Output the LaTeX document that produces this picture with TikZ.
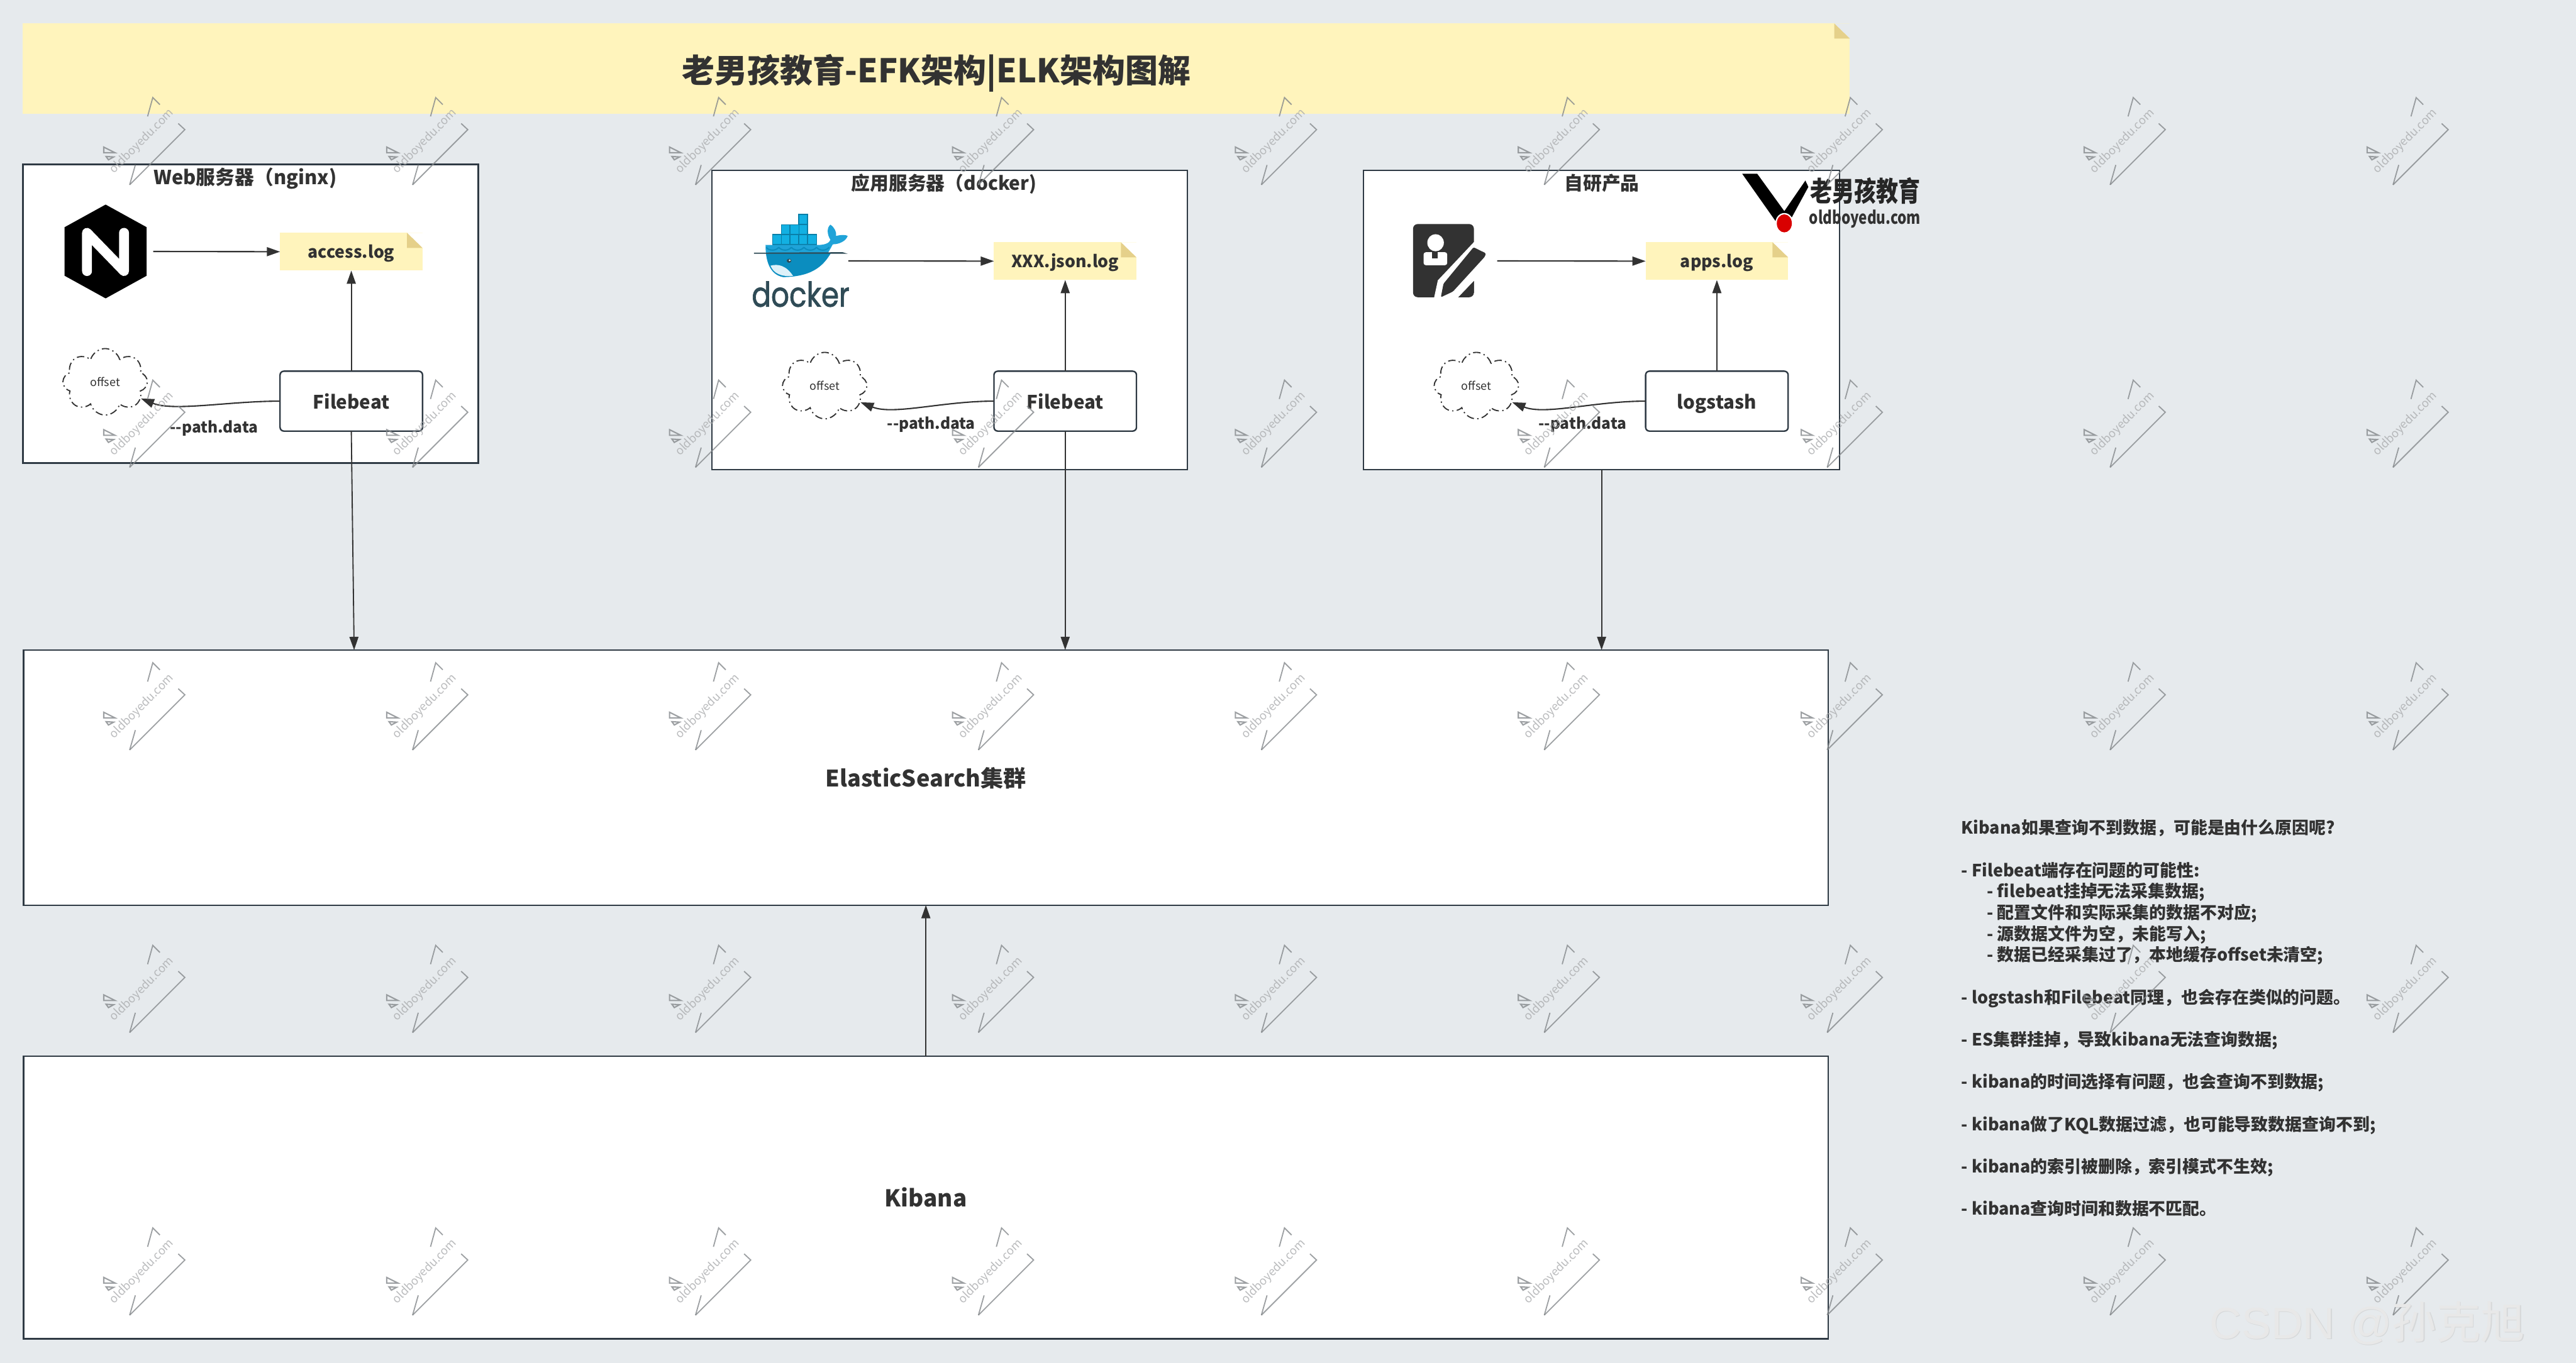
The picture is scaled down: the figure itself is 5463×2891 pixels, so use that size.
\documentclass[tikz,border=0pt]{standalone}
\usepackage{fontspec}
\setmainfont{Noto Sans CJK SC}
\newfontfamily\logofont[FakeBold=1.5]{Poppins}
\newfontfamily\markfont{Liberation Sans}
\usetikzlibrary{arrows.meta,shapes.symbols}
\definecolor{pagebg}{HTML}{E6EAED}
\definecolor{inkcol}{HTML}{323232}
\definecolor{edgecol}{HTML}{2F3A44}
\definecolor{notecol}{HTML}{FFF4BC}
\definecolor{foldcol}{HTML}{E5D08A}
\definecolor{markcol}{HTML}{85898C}
\definecolor{whaletop}{HTML}{1FA3D8}
\definecolor{whalelow}{HTML}{0B8DBF}
\definecolor{cratecol}{HTML}{12B0E2}
\definecolor{cratedark}{HTML}{0A7FA8}
\definecolor{dockerink}{HTML}{2F4B56}
\tikzset{
    arrow/.style={draw=inkcol,line width=0.8pt,-{Triangle[length=0.28cm,width=0.19cm]}},
    serverbox/.style={draw=edgecol,fill=white,line width=0.9pt,outer sep=0pt},
    agentbox/.style={serverbox,rounded corners=0.08cm,minimum width=3.02cm,minimum height=1.27cm,text height=0.40cm,text depth=0.08cm,font=\fontsize{11.2}{14}\selectfont\bfseries,text=inkcol},
    logbox/.style={fill=notecol,outer sep=0pt,minimum width=3.02cm,minimum height=0.8cm,text height=0.33cm,text depth=0.07cm,font=\fontsize{10.1}{13}\selectfont\bfseries,text=inkcol},
    boxtitle/.style={font=\fontsize{11.3}{13}\selectfont\bfseries,text=inkcol,inner sep=0pt},
    pathlabel/.style={font=\fontsize{9.3}{12}\selectfont\bfseries,text=inkcol,inner sep=0pt},
    offsetcloud/.style={cloud,cloud puffs=8,aspect=1.27,draw=inkcol,line width=0.7pt,dash pattern=on 4.5pt off 2pt on 0.8pt off 2pt,fill=white,inner sep=0pt,minimum width=1.79cm,minimum height=1.41cm,font=\fontsize{6.8}{8}\selectfont,text=inkcol},
    iconbox/.style={minimum width=2.02cm,minimum height=2cm,inner sep=0pt,outer sep=0pt},
}
\begin{document}
\begin{tikzpicture}[x=0.01cm,y=-0.01cm]
    \useasboundingbox (0,0) rectangle (5463,2891);
    \fill[pagebg] (0,0) rectangle (5463,2891);

    \node[logbox,minimum width=38.73cm,minimum height=1.92cm,text height=0.72cm,text depth=0.12cm,font=\fontsize{19.7}{24}\selectfont\bfseries] (title) at (1985.5,146) {老男孩教育-EFK架构|ELK架构图解};

    \node[serverbox,minimum width=9.65cm,minimum height=6.33cm] (web) at (531.5,665.5) {};
    \node[serverbox,minimum width=10.08cm,minimum height=6.34cm] (app) at (2014,679) {};
    \node[serverbox,minimum width=10.09cm,minimum height=6.34cm] (own) at (3396.5,679) {};
    \node[boxtitle,font=\fontsize{11.7}{13}\selectfont\bfseries] (webtitle) at (520,378) {Web服务器（nginx)};
    \node[boxtitle] (apptitle) at (2002,390) {应用服务器（docker)};
    \node[boxtitle] (owntitle) at (3397,388) {自研产品};

    \node[logbox] (access) at (745,534) {access.log};
    \node[logbox] (jsonlog) at (2259,554) {XXX.json.log};
    \node[logbox] (appslog) at (3641,554) {apps.log};
    \foreach \n/\c in {title/pagebg,access/white,jsonlog/white,appslog/white}{
        \fill[\c] (\n.north east) -- ++(-33,0) -- ++(33,32) -- cycle;
        \fill[foldcol] (\n.north east) ++(-33,0) -- ++(33,32) -- ++(-33,0) -- cycle;
    }

    \node[agentbox] (fb1) at (745,851) {Filebeat};
    \node[agentbox] (fb2) at (2259,851) {Filebeat};
    \node[agentbox] (ls) at (3641,851) {logstash};
    \node[offsetcloud] (off1) at (223,810) {offset};
    \node[offsetcloud] (off2) at (1749,818) {offset};
    \node[offsetcloud] (off3) at (3131,818) {offset};
    \node[pathlabel] (path1) at (454,908) {-{}-path.data};
    \node[pathlabel] (path2) at (1975,900) {-{}-path.data};
    \node[pathlabel] (path3) at (3356,900) {-{}-path.data};

    \node[serverbox,minimum width=38.25cm,minimum height=5.41cm,text height=0.48cm,text depth=0.09cm,font=\fontsize{13.7}{16}\selectfont\bfseries,text=inkcol] (es) at (1963.5,1649.5) {ElasticSearch集群};
    \node[serverbox,minimum width=38.25cm,minimum height=5.99cm,font=\fontsize{14}{17}\selectfont\bfseries,text=inkcol] (kibana) at (1963.5,2540.5) {Kibana};

    \node[iconbox] (nginx) at (224,533.5) {};
    \fill[black] (224,434) -- (311,482) -- (311,585) -- (224,633) -- (137,585) -- (137,482) -- cycle;
    \draw[white,line width=6pt,line cap=round,line join=round] (184.5,575) -- (184.5,494) -- (263,575) -- (263,494);

    \node[iconbox,minimum width=4cm] (docker) at (1599,553.5) {};
    \begin{scope}[shift={(1450,320)},x=0.00702cm,y=-0.00478cm]
        \foreach \cx/\cy in {347/282,347/328,295/328,321/328,268/372,295/372,321/372,347/372,374/372}{
            \fill[cratecol,draw=cratedark,line width=0.6pt] (\cx,\cy) rectangle ++(27,44);
        }
        \fill[whaletop] (247,418) -- (405,418) .. controls (425,418) and (440,410) .. (443,395) .. controls (432,370) and (432,340) .. (443,328) .. controls (455,340) and (462,360) .. (460,378) .. controls (475,372) and (490,372) .. (495,378) .. controls (490,400) and (470,415) .. (450,415) .. controls (430,470) and (400,560) .. (300,560) .. controls (260,550) and (247,490) .. (247,418) -- cycle;
        \fill[whalelow] (249,455) -- (444,455) .. controls (425,500) and (395,560) .. (300,560) .. controls (265,550) and (252,500) .. (249,455) -- cycle;
        \foreach \w in {249,287,325,363,401}{
            \draw[whalelow,line width=0.8pt] (\w,428) .. controls ({\w+8},445) and ({\w+30},445) .. ({\w+38},428);
        }
        \fill[white!85!whaletop] (262,510) .. controls (285,500) and (310,510) .. (330,555) .. controls (295,560) and (272,545) .. (262,510) -- cycle;
        \fill[dockerink] (212,457) -- (495,457) -- (480,450) -- (212,452) -- cycle;
        \fill[dockerink] (318,488) ellipse (7 and 9);
        \fill[white] (320,486) ellipse (3 and 4);
    \end{scope}
    \node[font=\logofont\fontsize{17.2}{20}\selectfont,text=dockerink,inner sep=0pt,yscale=1.2] (dockerword) at (1698,624) {docker};

    \node[iconbox] (edit) at (3074,553.5) {};
    \begin{scope}[shift={(2850,320)},x=0.00797cm,y=-0.00478cm]
        \fill[inkcol,rounded corners=0.1cm] (184,325) rectangle (346,650);
        \fill[white] (244,408) ellipse (22 and 38);
        \fill[white,rounded corners=0.05cm] (212,450) rectangle (275,508);
        \fill[inkcol] (235,450) rectangle (250,478);
        \fill[white] (346,405) -- (250,575) -- (240,652) -- (303,652) -- (380,520) -- (380,405) -- cycle;
        \fill[inkcol] (305,650) -- (346,578) -- (346,630) -- (330,650) -- cycle;
        \fill[inkcol,rounded corners=0.03cm] (345,428) -- (378,455) -- (375,470) -- (290,625) -- (258,650) -- (265,590) -- cycle;
        \fill[black] (1060,102) -- (1100,102) -- (1172,268) -- (1228,132) -- (1236,160) -- (1192,295) -- (1150,315) -- cycle;
        \fill[white] (1172,322) ellipse (24 and 46);
        \fill[red!85!black] (1172,322) ellipse (20 and 40);
    \end{scope}
    \node[font=\fontsize{13.3}{16}\selectfont\bfseries,text=black!85,inner sep=0pt,yscale=1.25] (logotext) at (3956,405) {老男孩教育};
    \node[font=\fontsize{9.8}{12}\selectfont\bfseries,text=inkcol,inner sep=0pt,xscale=0.87,yscale=1.1] (logourl) at (3955,464) {oldboyedu.com};

    \draw[arrow] (nginx.east) -- (access.west);
    \draw[arrow] (docker.east) -- (jsonlog.west);
    \draw[arrow] (edit.east) -- (appslog.west);
    \draw[arrow] (fb1.north) -- (access.south);
    \draw[arrow] (fb2.north) -- (jsonlog.south);
    \draw[arrow] (ls.north) -- (appslog.south);
    \draw[arrow] (fb1.west) .. controls +(-110,0) and +(70,28) .. (off1.-25);
    \draw[arrow] (fb2.west) .. controls +(-110,0) and +(70,28) .. (off2.-25);
    \draw[arrow] (ls.west) .. controls +(-110,0) and +(70,28) .. (off3.-25);
    \coordinate (esin) at (751,1379);
    \draw[arrow,line width=0.7pt] (fb1.south) -- (esin);
    \draw[arrow,line width=0.7pt] (fb2.south) -- (es.north -| fb2.south);
    \draw[arrow,line width=0.7pt] (own.south) -- (es.north -| own.south);
    \draw[arrow,line width=0.7pt] (kibana.north) -- (es.south);

    \node[anchor=north west,align=left,inner sep=0pt,font=\fontsize{10.2}{12.77}\selectfont\bfseries,text=inkcol] (notes) at (4159,1738) {Kibana如果查询不到数据，可能是由什么原因呢?\\
    \mbox{}\\
    - Filebeat端存在问题的可能性:\\
    \hspace*{0.54cm}- filebeat挂掉无法采集数据;\\
    \hspace*{0.54cm}- 配置文件和实际采集的数据不对应;\\
    \hspace*{0.54cm}- 源数据文件为空，未能写入;\\
    \hspace*{0.54cm}- 数据已经采集过了，本地缓存offset未清空;\\
    \mbox{}\\
    - logstash和Filebeat同理，也会存在类似的问题。\\
    \mbox{}\\
    - ES集群挂掉，导致kibana无法查询数据;\\
    \mbox{}\\
    - kibana的时间选择有问题，也会查询不到数据;\\
    \mbox{}\\
    - kibana做了KQL数据过滤，也可能导致数据查询不到;\\
    \mbox{}\\
    - kibana的索引被删除，索引模式不生效;\\
    \mbox{}\\
    - kibana查询时间和数据不匹配。};

    \foreach \i in {0,...,8}{
        \foreach \j in {0,...,4}{
            \begin{scope}[shift={({275+600*\i},{392+599.5*\j})},opacity=0.8]
                \draw[markcol,line width=0.7pt] (0,0) -- (117,-117) -- (103,-130);
                \draw[markcol,line width=0.7pt] (0,0) -- (12,-42);
                \draw[markcol,line width=0.7pt] (38,-145) -- (49,-185) -- (64,-170);
                \draw[markcol,line width=0.8pt] (-55,-80) -- (-31,-68) -- (-55,-68) -- cycle;
                \draw[markcol,line width=0.8pt] (-50,-60) -- (-34,-59) -- (-45,-53) -- cycle;
                \node[rotate=45,font=\fontsize{7}{9}\selectfont,text=markcol!70,inner sep=0pt] (mark\i\j) at (26,-92) {oldboyedu.com};
            \end{scope}
        }
    }

    \node[anchor=base west,inner sep=0pt,font=\markfont\fontsize{26.7}{30}\selectfont,text=black!22,opacity=0.5] (csdnshade) at (4687,2842) {CSDN @\setmainfont{Noto Sans CJK SC}\normalfont 孙克旭};
    \node[anchor=base west,inner sep=0pt,font=\markfont\fontsize{26.7}{30}\selectfont,text=black!9] (csdn) at (4685,2840) {CSDN @\setmainfont{Noto Sans CJK SC}\normalfont 孙克旭};
\end{tikzpicture}
\end{document}
